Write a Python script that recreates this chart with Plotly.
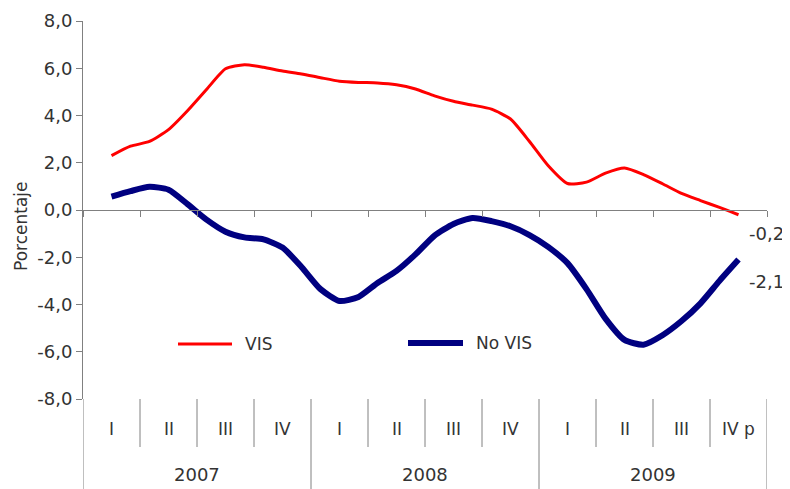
import plotly.graph_objects as go

# ---- data ----
months = list(range(1, 35))  # Feb-2007 .. Nov-2009 (month index, Jan-2007 = 0)
vis = [2.3, 2.7, 2.9, 3.4, 4.2, 5.1, 5.98, 6.15, 6.04, 5.88, 5.76, 5.6, 5.45, 5.4,
       5.38, 5.3, 5.12, 4.83, 4.6, 4.44, 4.27, 3.85, 2.9, 1.86, 1.12, 1.18, 1.56, 1.78,
       1.5, 1.11, 0.7, 0.4, 0.11, -0.2]
no_vis = [0.57, 0.8, 0.98, 0.86, 0.25, -0.41, -0.92, -1.16, -1.24, -1.59, -2.41, -3.35,
          -3.85, -3.68, -3.09, -2.58, -1.88, -1.08, -0.59, -0.34, -0.47, -0.69, -1.06,
          -1.57, -2.25, -3.35, -4.6, -5.5, -5.7, -5.3, -4.7, -3.95, -3.0, -2.1]
quarters = ["I", "II", "III", "IV", "I", "II", "III", "IV", "I", "II", "III", "IV p"]
years = ["2007", "2008", "2009"]
y_ticks = [-8, -6, -4, -2, 0, 2, 4, 6, 8]
y_ticktext = [f"{v:.1f}".replace(".", ",") for v in y_ticks]

FONT = "DejaVu Sans"
TXT = "#333333"
GRID = "#808080"
RED = "#FF0000"
NAVY = "#000080"

# page has an 8px body margin; figure placed at (8, 8)
OFF = 8
W, H = 790 - OFF, 489 - OFF
ML, MR, MT, MB = 83 - OFF, 23, 21 - OFF, 90
PW, PH = 684, 378

fig = go.Figure()
fig.add_trace(go.Scatter(x=months, y=vis, mode="lines", name="VIS",
                         line=dict(color=RED, width=3, shape="spline", smoothing=0.6),
                         showlegend=False, hoverinfo="skip"))
fig.add_trace(go.Scatter(x=months, y=no_vis, mode="lines", name="No VIS",
                         line=dict(color=NAVY, width=6, shape="spline", smoothing=0.6),
                         showlegend=False, hoverinfo="skip"))

n_q = len(quarters)
xmin, xmax = -0.5, -0.5 + 3 * n_q
bounds = [-0.5 + 3 * k for k in range(n_q + 1)]


def px(xp):
    return (xp - 83) / PW


def py(yp):
    return (399 - yp) / PH


shapes = []
# category separators below the plot
for k, b in enumerate(bounds):
    y1 = py(489) if k % 4 == 0 else py(447)
    shapes.append(dict(type="line", xref="x", yref="paper", x0=b, x1=b, y0=0, y1=y1,
                       line=dict(color=GRID, width=1), layer="above"))

annotations = []
for i, q in enumerate(quarters):
    annotations.append(dict(x=bounds[i] + 1.5, y=py(429), xref="x", yref="paper",
                            text=q, showarrow=False, xanchor="center", yanchor="middle",
                            font=dict(family=FONT, size=17, color=TXT)))
for j, yr in enumerate(years):
    annotations.append(dict(x=bounds[4 * j] + 6, y=py(475), xref="x", yref="paper",
                            text=yr, showarrow=False, xanchor="center", yanchor="middle",
                            font=dict(family=FONT, size=18, color=TXT)))

# end-of-series value labels
annotations.append(dict(x=months[-1], y=vis[-1], xref="x", yref="y",
                        text=f"{vis[-1]:.1f}".replace(".", ","), showarrow=False,
                        xanchor="left", yanchor="middle", xshift=8, yshift=-19,
                        font=dict(family=FONT, size=18, color=TXT)))
annotations.append(dict(x=months[-1], y=no_vis[-1], xref="x", yref="y",
                        text=f"{no_vis[-1]:.1f}".replace(".", ","), showarrow=False,
                        xanchor="left", yanchor="middle", xshift=8, yshift=-22,
                        font=dict(family=FONT, size=18, color=TXT)))

# y-axis title
annotations.append(dict(x=px(21), y=py(226), xref="paper", yref="paper",
                        text="Porcentaje", showarrow=False, textangle=-90,
                        xanchor="center", yanchor="middle",
                        font=dict(family=FONT, size=17, color=TXT)))

# manual legend
shapes.append(dict(type="line", xref="paper", yref="paper", x0=px(178), x1=px(232),
                   y0=py(344), y1=py(344), line=dict(color=RED, width=3)))
annotations.append(dict(x=px(243), y=py(344), xref="paper", yref="paper", text="VIS",
                        showarrow=False, xanchor="left", yanchor="middle",
                        font=dict(family=FONT, size=17, color=TXT)))
shapes.append(dict(type="line", xref="paper", yref="paper", x0=px(408), x1=px(463),
                   y0=py(343), y1=py(343), line=dict(color=NAVY, width=6)))
annotations.append(dict(x=px(474), y=py(343), xref="paper", yref="paper", text="No VIS",
                        showarrow=False, xanchor="left", yanchor="middle",
                        font=dict(family=FONT, size=17, color=TXT)))

fig.update_layout(
    width=W, height=H,
    margin=dict(l=ML, r=MR, t=MT, b=MB, autoexpand=False),
    paper_bgcolor="white", plot_bgcolor="white",
    showlegend=False,
    font=dict(family=FONT, size=18, color=TXT),
    xaxis=dict(range=[xmin, xmax], anchor="free", position=0.5,
               showline=True, linecolor=GRID, linewidth=1,
               tickmode="array", tickvals=bounds, ticktext=[""] * len(bounds),
               ticks="outside", ticklen=6, tickcolor=GRID, showgrid=False,
               zeroline=False, showticklabels=False),
    yaxis=dict(range=[-8, 8], tickmode="array", tickvals=y_ticks, ticktext=y_ticktext,
               showline=True, linecolor=GRID, linewidth=1, ticks="outside", ticklen=6,
               tickcolor=GRID, showgrid=False, zeroline=False,
               tickfont=dict(family=FONT, size=18, color=TXT)),
    shapes=shapes,
    annotations=annotations,
)

fig.write_html("out.html")
